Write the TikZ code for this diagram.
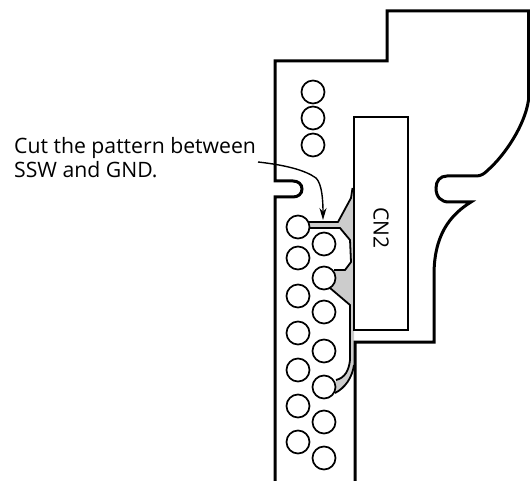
\documentclass[tikz,border=0pt]{standalone}
\usepackage{fontspec}
\setmainfont{Open Sans}
\usetikzlibrary{arrows.meta}
\tikzset{
  board/.style={line width=3pt,line join=miter},
  hole/.style={circle,draw,line width=1.7pt,minimum size=23pt,inner sep=0pt,fill=white},
  trace/.style={line width=1.8pt,line join=round},
  copper/.style={fill=black!20,draw=none},
  lbl/.style={font=\fontsize{21.2pt}{24pt}\selectfont,inner sep=0pt}
}
\begin{document}
\begin{tikzpicture}[x=1pt,y=-1pt]
\useasboundingbox (0,0) rectangle (530,481);
% copper
\path[copper] (354,188) -- (351,198) -- (338,222) -- (309,222) -- (309,228) -- (340,228) -- (350,240) -- (351,262) -- (345,270) -- (334,270) -- (330,288) -- (350,305) -- (350,360) .. controls (349,370) and (345,378) .. (336,380) -- (335,393) .. controls (345,388) and (352,378) .. (354,365) -- cycle;
% board outline
\draw[board] (275,481) -- (275,197) -- (293,197) .. controls (298,197) and (302,194) .. (302,189) .. controls (302,184) and (298,181) .. (293,181) -- (275,181) -- (275,61) -- (387,61) -- (387,11) -- (528.5,11) -- (528.5,100)
  .. controls (525,125) and (505,155) .. (488,170) .. controls (484,174) and (481,176) .. (476,176) -- (447,176) .. controls (440,176) and (436,181) .. (436,188) .. controls (436,197) and (441,202) .. (449,202) -- (471,202)
  .. controls (450,215) and (434,235) .. (434,275) -- (434,342) -- (355,342) -- (355,481);
% connector
\draw[line width=1.6pt] (354,117) rectangle (408,330);
\node[lbl,rotate=-90,font=\fontsize{21pt}{24pt}\selectfont] (cn) at (381,228) {CN2};
% traces
\draw[trace] (352.5,188) -- (351,198) -- (338,222) -- (309,222);
\draw[trace] (309,228) -- (340,228) -- (350,240) -- (351,262) -- (345,270) -- (334,270);
\draw[trace] (330,288) -- (350,305) -- (350,360) .. controls (349,370) and (345,378) .. (336,380);
\draw[trace] (354,365) .. controls (352,378) and (345,388) .. (335,393);
% holes
\foreach \n/\x/\y in {a/313/92,b/313/118,c/313/145,
  d/298/227,e/298/258,f/298/296,g/298/333,h/298/370,i/298/406,j/298/442,
  k/324/244,l/324/278,m/324/312,n/324/351,o/324/387,p/324/422,q/324/458}
  \node[hole] (\n) at (\x,\y) {};
% label
\node[lbl,anchor=base west,align=left] (t) at (14,178) {Cut the pattern between\\SSW and GND.};
\coordinate (ls) at (258,162);
\draw[line width=1.4pt,-{Stealth[length=12pt,width=7pt]}] (ls) .. controls (285,165) and (305,170) .. (316,178) .. controls (322,184) and (323,200) .. (323,220);
\end{tikzpicture}
\end{document}
